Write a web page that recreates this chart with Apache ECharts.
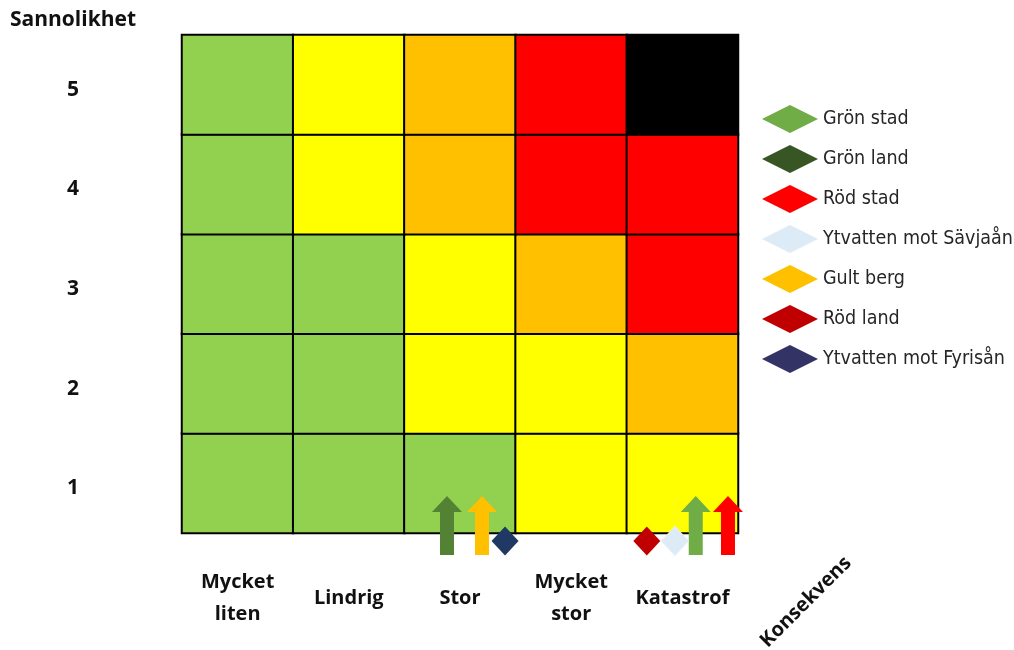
<!DOCTYPE html>
<html>
<head>
<meta charset="utf-8">
<script src="https://cdn.jsdelivr.net/npm/echarts@6/dist/echarts.min.js"></script>
<style>
  html, body { margin: 0; padding: 0; background: #fff; }
  #chart { width: 1014px; height: 650px; }
</style>
</head>
<body>
<div id="chart"></div>
<script>
// Konsekvens (x) och sannolikhet (y) för riskmatrisen
const konsekvens = ['Mycket\nliten', 'Lindrig', 'Stor', 'Mycket\nstor', 'Katastrof'];
const sannolikhet = ['1', '2', '3', '4', '5'];

// Risknivå per cell, rad för rad från sannolikhet 1 till 5
const riskRad1 = [1, 1, 1, 2, 2];
const riskRad2 = [1, 1, 2, 2, 3];
const riskRad3 = [1, 1, 2, 3, 4];
const riskRad4 = [1, 2, 3, 4, 4];
const riskRad5 = [1, 2, 3, 4, 5];
const riskRader = [riskRad1, riskRad2, riskRad3, riskRad4, riskRad5];

const nivaFarger = ['#92D050', '#FFFF00', '#FFC000', '#FF0000', '#000000'];

// Scenarier: namn, konsekvens (x på 0–5-skala) och sannolikhet (y på 0–5-skala)
const scenarioNamn = ['Grön stad', 'Grön land', 'Röd stad', 'Ytvatten mot Sävjaån', 'Gult berg', 'Röd land', 'Ytvatten mot Fyrisån'];
const scenarioX = [4.62, 2.383, 4.91, 4.433, 2.698, 4.18, 2.905];
const scenarioY = [0.075, 0.075, 0.075, -0.08, 0.075, -0.08, -0.08];
const scenarioPil = [true, true, true, false, true, false, false];
const scenarioFarg = ['#70AD47', '#548235', '#FF0000', '#DDEBF7', '#FFC000', '#C00000', '#203864'];
const legendFarg = ['#70AD47', '#375623', '#FF0000', '#DDEBF7', '#FFC000', '#C00000', '#333366'];

// Uppåtpil som symbol
const pil = 'path://M15,0 L30,16 L22,16 L22,59 L8,59 L8,16 L0,16 Z';

const cellData = [];
riskRader.forEach((rad, yi) => rad.forEach((niva, xi) => cellData.push([xi, yi, niva])));

const labelFont = { fontFamily: 'Open Sans', fontWeight: 'bold', fontSize: 20, color: '#111' };

const chart = echarts.init(document.getElementById('chart'), null, { renderer: 'canvas' });

const scatterSeries = scenarioNamn.map((namn, i) => ({
  name: namn,
  type: 'scatter',
  xAxisIndex: 1,
  yAxisIndex: 1,
  clip: false,
  z: 5,
  symbol: scenarioPil[i] ? pil : 'diamond',
  symbolSize: scenarioPil[i] ? [30, 59] : [27, 29],
  symbolKeepAspect: false,
  itemStyle: {
    color: scenarioFarg[i],
    opacity: 1,
    borderColor: scenarioFarg[i] === '#DDEBF7' ? '#E8EEF4' : 'transparent',
    borderWidth: scenarioFarg[i] === '#DDEBF7' ? 1 : 0
  },
  emphasis: { disabled: true },
  data: [[scenarioX[i], scenarioY[i]]]
}));

chart.setOption({
  animation: false,
  title: {
    text: 'Sannolikhet',
    left: 10,
    top: 10,
    padding: 0,
    textStyle: Object.assign({}, labelFont, { fontSize: 21 })
  },
  grid: { left: 182, top: 35, width: 556, height: 498 },
  legend: {
    orient: 'vertical',
    left: 762,
    top: 105,
    padding: 0,
    itemWidth: 56,
    itemHeight: 28,
    itemGap: 12,
    icon: 'diamond',
    symbolKeepAspect: false,
    selectedMode: false,
    textStyle: { fontFamily: 'DejaVu Sans Condensed', fontSize: 19.5, color: '#262626' },
    data: scenarioNamn.map((namn, i) => ({ name: namn, itemStyle: { color: legendFarg[i], borderWidth: 0, opacity: 1 } }))
  },
  visualMap: {
    type: 'piecewise',
    show: false,
    seriesIndex: 0,
    pieces: nivaFarger.map((c, i) => ({ value: i + 1, color: c }))
  },
  xAxis: [
    {
      type: 'category',
      data: konsekvens,
      axisLine: { show: false },
      axisTick: { show: false },
      splitLine: { show: false },
      axisLabel: Object.assign({}, labelFont, { margin: 65, verticalAlign: 'middle', lineHeight: 32, interval: 0 })
    },
    { type: 'value', min: 0, max: 5, show: false }
  ],
  yAxis: [
    {
      type: 'category',
      data: sannolikhet,
      axisLine: { show: false },
      axisTick: { show: false },
      splitLine: { show: false },
      axisLabel: {
        margin: 109,
        align: 'center',
        formatter: '{d|{value}}',
        rich: { d: Object.assign({}, labelFont, { fontSize: 21, padding: [10, 0, 0, 0] }) }
      }
    },
    { type: 'value', min: 0, max: 5, show: false }
  ],
  graphic: [{
    type: 'text',
    x: 806,
    y: 602,
    rotation: Math.PI / 4,
    style: {
      text: 'Konsekvens',
      font: 'bold 20px "Open Sans"',
      fill: '#111',
      align: 'center',
      verticalAlign: 'middle'
    }
  }],
  series: [{
    type: 'heatmap',
    data: cellData,
    z: 2,
    itemStyle: { borderColor: '#000', borderWidth: 2 },
    emphasis: { disabled: true },
    label: { show: false }
  }].concat(scatterSeries)
});
</script>
</body>
</html>
